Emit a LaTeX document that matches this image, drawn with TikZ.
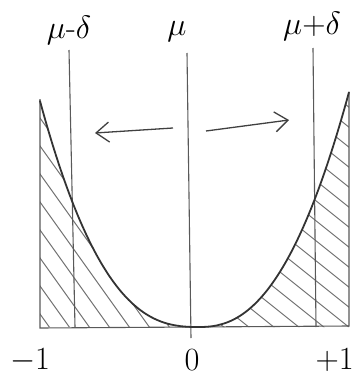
\documentclass[tikz,border=0pt]{standalone}
\usetikzlibrary{arrows.meta}
\begin{document}
\begin{tikzpicture}[x=1pt,y=-1pt,
  guide/.style={draw=black!65,line width=1.1pt},
  curveline/.style={draw=black!80,line width=1.8pt,line cap=round,line join=round},
  hatch/.style={draw=black!55,line width=1pt,line cap=round},
  arr/.style={draw=black!75,line width=1.3pt,-{Straight Barb[length=13pt,width=20pt,line width=1.3pt]}},
  lbl/.style={font=\Huge,scale=1.3,inner sep=0pt}]
\useasboundingbox (0,0) rectangle (354,383);
% hatching, left
\begin{scope}
  \clip (40,327) -- (40,101) -- plot[domain=1:0.002,samples=60,variable=\t] ({199-159*\t},{327-226*exp(2.6*ln(\t))}) -- (199,327) -- cycle;
  \foreach \s in {-140,-120,...,40} \draw[hatch] (\s,90) -- ++(180,252);
\end{scope}
% hatching, right
\begin{scope}
  \clip (199,327) -- plot[domain=0.002:1,samples=60,variable=\t] ({199+150*\t},{327-235*exp(2.35*ln(\t))}) -- (349,327) -- cycle;
  \foreach \s in {-20,0,...,300} \draw[hatch] (190,\s) -- ++(180,144);
\end{scope}
% frame and guides
\coordinate (lt) at (40,99);
\coordinate (lb) at (40,328);
\coordinate (rt) at (349,92);
\coordinate (rb) at (349,326);
\draw[guide] (lt) -- (lb) -- (rb) -- (rt);
\coordinate (md1) at (69,50);   \coordinate (md2) at (75,327);
\coordinate (m1) at (187,53);   \coordinate (m2) at (191,338);
\coordinate (mp1) at (313,48);  \coordinate (mp2) at (316,327);
\draw[guide] (md1) -- (md2);
\draw[guide] (m1) -- (m2);
\draw[guide] (mp1) -- (mp2);
% curve
\draw[curveline] (40,101) -- plot[domain=1:0.002,samples=60,variable=\t] ({199-159*\t},{327-226*exp(2.6*ln(\t))}) -- (199,327) -- plot[domain=0.002:1,samples=60,variable=\t] ({199+150*\t},{327-235*exp(2.35*ln(\t))});
% arrows
\coordinate (la1) at (173,128); \coordinate (la2) at (95,133);
\coordinate (ra1) at (206,131); \coordinate (ra2) at (289,120);
\draw[arr] (la1) -- (la2);
\draw[arr] (ra1) -- (ra2);
% labels
\node[lbl] (lmd) at (69,30) {$\mu\mbox{-}\delta$};
\node[lbl] (lm) at (177,32) {$\mu$};
\node[lbl] (lmp) at (312,26) {$\mu{+}\delta$};
\node[lbl] (ln1) at (30,360) {$-1$};
\node[lbl] (l0) at (192,360) {$0$};
\node[lbl,anchor=east] (lp1) at (354,360) {$+1$};
\end{tikzpicture}
\end{document}
